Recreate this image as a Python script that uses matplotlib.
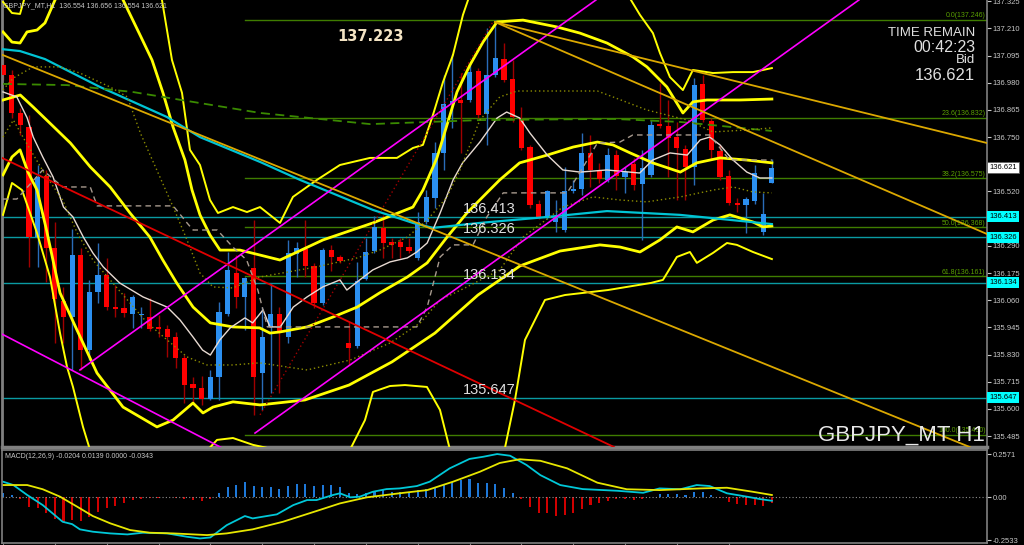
import numpy as np
import matplotlib.pyplot as plt
from matplotlib.transforms import blended_transform_factory as blend

plt.rcParams['font.family'] = ['Liberation Sans', 'DejaVu Sans']

# ---------------- GBPJPY H1 candles ----------------
opens = [137.055, 137.013, 136.852, 136.793, 136.327, 136.586, 136.281, 136.057, 135.989, 136.251,
         135.849, 136.095, 136.167, 136.031, 136.027, 136.002, 135.998, 135.989, 135.947, 135.938,
         135.904, 135.816, 135.706, 135.689, 135.642, 135.735, 136.002, 136.175, 136.074, 136.196,
         135.752, 135.947, 136.002, 135.904, 136.256, 136.277, 136.205, 136.048, 136.272, 136.243,
         135.879, 135.866, 136.150, 136.268, 136.366, 136.306, 136.306, 136.285, 136.239, 136.391,
         136.492, 136.683, 136.890, 136.907, 136.907, 137.030, 136.848, 137.013, 137.080, 136.996,
         136.827, 136.708, 136.467, 136.412, 136.391, 136.357, 136.522, 136.531, 136.683, 136.607,
         136.569, 136.674, 136.581, 136.636, 136.552, 136.590, 136.805, 136.797, 136.750, 136.700,
         136.624, 136.975, 136.818, 136.691, 136.586, 136.471, 136.463, 136.480, 136.349, 136.554]
highs = [137.085, 137.034, 136.873, 136.844, 136.632, 136.611, 136.391, 136.116, 136.361, 136.281,
         136.146, 136.302, 136.239, 136.124, 136.091, 136.082, 136.031, 136.069, 135.998, 135.955,
         135.926, 135.828, 135.735, 135.740, 135.765, 136.053, 136.264, 136.251, 136.158, 136.399,
         136.031, 136.133, 136.031, 136.315, 136.306, 136.399, 136.218, 136.281, 136.294, 136.251,
         135.968, 136.222, 136.323, 136.416, 136.421, 136.323, 136.323, 136.323, 136.433, 136.526,
         136.729, 137.013, 137.102, 137.021, 137.064, 137.042, 137.212, 137.246, 137.148, 137.076,
         136.877, 136.717, 136.484, 136.526, 136.484, 136.624, 136.569, 136.767, 136.759, 136.641,
         136.704, 136.695, 136.624, 136.662, 136.695, 136.822, 136.979, 136.907, 136.814, 136.717,
         137.000, 137.013, 136.831, 136.717, 136.611, 136.492, 136.497, 136.632, 136.514, 136.656]
lows = [136.992, 136.831, 136.759, 136.201, 136.201, 136.137, 135.879, 135.879, 135.765, 135.765,
        135.807, 136.048, 136.019, 135.989, 135.989, 135.943, 135.943, 135.930, 135.904, 135.820,
        135.773, 135.625, 135.625, 135.617, 135.638, 135.638, 135.993, 136.027, 135.934, 135.575,
        135.596, 135.668, 135.668, 135.879, 136.158, 136.158, 136.027, 136.040, 136.184, 136.218,
        135.786, 135.858, 136.146, 136.260, 136.239, 136.239, 136.239, 136.260, 136.230, 136.382,
        136.450, 136.611, 136.789, 136.683, 136.899, 136.831, 136.717, 137.004, 136.983, 136.814,
        136.695, 136.450, 136.404, 136.404, 136.349, 136.349, 136.514, 136.505, 136.539, 136.556,
        136.560, 136.526, 136.514, 136.526, 136.315, 136.581, 136.789, 136.581, 136.484, 136.484,
        136.547, 136.814, 136.653, 136.569, 136.463, 136.433, 136.344, 136.467, 136.336, 136.554]
closes = [137.013, 136.852, 136.801, 136.327, 136.581, 136.281, 136.065, 135.989, 136.251, 135.849,
          136.095, 136.167, 136.031, 136.023, 136.006, 136.074, 136.002, 135.938, 135.938, 135.904,
          135.816, 135.701, 135.689, 135.642, 135.735, 136.010, 136.188, 136.074, 136.154, 135.735,
          135.904, 136.002, 135.921, 136.260, 136.281, 136.205, 136.048, 136.272, 136.243, 136.226,
          135.858, 136.141, 136.264, 136.370, 136.302, 136.294, 136.285, 136.268, 136.391, 136.497,
          136.683, 136.890, 136.903, 136.894, 137.025, 136.844, 137.013, 137.085, 136.992, 136.835,
          136.704, 136.463, 136.412, 136.522, 136.408, 136.522, 136.531, 136.683, 136.611, 136.573,
          136.674, 136.586, 136.602, 136.547, 136.619, 136.801, 136.797, 136.746, 136.704, 136.624,
          136.970, 136.822, 136.695, 136.581, 136.471, 136.463, 136.488, 136.598, 136.425, 136.621]

# ---------------- indicator lines (bar index, price) ----------------
bb_mid_x = [0, 2.0, 3.5, 5.4, 7.8, 10.1, 12.4, 14.7, 17.0, 18.5, 20.1, 22.0, 24.0, 26.6, 29.7, 30.9,
            32.1, 35.2, 38.2, 41.0, 43.6, 46.8, 49.1, 51.4, 53.7, 56.0, 57.5, 59.8, 63.0, 66.0, 68.8,
            70.6, 72.6, 75.2, 78.4, 80.3, 83.0, 86.1, 89.0]
bb_mid_y = [136.907, 136.928, 136.877, 136.810, 136.725, 136.624, 136.539, 136.429, 136.327, 136.230,
            136.133, 136.031, 135.964, 135.947, 135.943, 135.921, 135.926, 135.947, 135.989, 136.031,
            136.091, 136.158, 136.218, 136.327, 136.429, 136.514, 136.569, 136.641, 136.674, 136.708,
            136.729, 136.717, 136.683, 136.641, 136.602, 136.641, 136.662, 136.653, 136.641]

bb_up2_x = [0, 1.04, 1.97, 2.78, 3.94, 4.86, 6.02, 8.91, 11.8, 13.9, 15.86, 17.25, 18.52, 19.68, 21.06,
            21.88, 22.8, 23.96, 25.12, 27.43, 29.75, 32.06, 37.04, 42.82, 47.45, 48.61, 50.23, 51.39,
            52.55, 54.05, 55.56, 57.18, 60.19, 64.12, 66.78, 69.91, 72.92, 74.54, 76.85, 78.7, 79.86,
            81.48, 85.3, 89.0]
bb_up2_y = [137.195, 137.152, 137.148, 137.195, 137.203, 137.233, 137.330, 137.499, 137.499, 137.330,
            137.182, 137.076, 136.937, 136.793, 136.653, 136.526, 136.421, 136.336, 136.272, 136.272,
            136.251, 136.230, 136.315, 136.387, 136.454, 136.526, 136.662, 136.801, 136.941, 137.055,
            137.152, 137.237, 137.245, 137.216, 137.190, 137.148, 137.089, 137.047, 136.962, 136.852,
            136.899, 136.907, 136.907, 136.911]

bb_up3_x = [0, 1.04, 1.97, 2.43, 4.28, 11.23, 17.01, 18.4, 19.56, 20.72, 21.64, 22.8, 23.96, 24.88,
            26.62, 28.24, 29.75, 32.06, 33.56, 36.34, 39.0, 42.48, 45.6, 47.45, 48.61, 49.77, 50.93,
            52.08, 53.24, 54.63, 63.31, 71.99, 73.73, 75.23, 76.04, 77.2, 78.7, 79.86, 82.18, 84.49,
            86.81, 89.0]
bb_up3_y = [137.322, 137.275, 137.271, 137.330, 137.499, 137.668, 137.457, 137.330, 137.076, 136.937,
            136.696, 136.632, 136.484, 136.429, 136.454, 136.433, 136.454, 136.387, 136.497, 136.569,
            136.632, 136.662, 136.662, 136.704, 136.717, 136.844, 136.983, 137.097, 137.267, 137.415,
            137.584, 137.372, 137.267, 137.190, 137.106, 137.004, 136.949, 137.034, 137.021, 137.025,
            137.025, 137.042]

bb_dn2_x = [0, 1.04, 1.97, 2.89, 3.94, 4.98, 6.6, 8.56, 10.88, 13.89, 15.86, 17.82, 19.68, 21.99,
            23.15, 24.31, 26.62, 29.75, 34.95, 40.05, 45.02, 50.0, 54.98, 59.84, 64.47, 69.1, 71.41,
            73.73, 76.04, 78.0, 79.86, 82.18, 84.14, 86.81, 87.96, 89.0]
bb_dn2_y = [136.590, 136.666, 136.696, 136.602, 136.526, 136.366, 136.091, 135.934, 135.752, 135.608,
            135.566, 135.524, 135.553, 135.625, 135.583, 135.608, 135.630, 135.617, 135.638, 135.701,
            135.799, 135.921, 136.082, 136.205, 136.268, 136.294, 136.285, 136.264, 136.315, 136.370,
            136.349, 136.399, 136.421, 136.391, 136.370, 136.374]

bb_dn3_x = [0, 1.04, 2.2, 3.94, 5.44, 6.6, 7.41, 8.1, 9.26, 10.07, 13.54, 20.49, 24.77, 26.62, 28.94,
            34.38, 40.16, 41.9, 42.82, 44.79, 46.53, 49.07, 50.58, 51.74, 55.21, 58.1, 59.26, 60.42,
            62.73, 65.05, 70.02, 75.0, 76.39, 78.0, 79.51, 80.32, 82.18, 83.8, 84.95, 86.81, 89.0]
bb_dn3_y = [136.421, 136.556, 136.526, 136.344, 136.158, 135.921, 135.778, 135.693, 135.524, 135.427,
            135.215, 135.300, 135.469, 135.477, 135.448, 135.405, 135.427, 135.553, 135.672, 135.697,
            135.701, 135.693, 135.596, 135.427, 135.342, 135.435, 135.638, 135.892, 136.061, 136.082,
            136.103, 136.133, 136.146, 136.243, 136.264, 136.218, 136.260, 136.302, 136.294, 136.264,
            136.234]

ma_cyan_x = [-0.35, 1.97, 4.86, 11.23, 18.98, 22.8, 29.75, 34.38, 42.82, 47.45, 49.77, 55.21, 62.96,
             69.91, 78.36, 89.0]
ma_cyan_y = [137.123, 137.114, 137.080, 136.962, 136.835, 136.750, 136.645, 136.569, 136.442, 136.387,
             136.366, 136.387, 136.412, 136.437, 136.421, 136.382]

ma_fast_x = [0, 1.6, 2.8, 3.5, 4.6, 5.8, 7, 8.1, 9.3, 10.4, 11.6, 13.5, 16.2, 19, 20.5, 22, 23.1, 24,
             25.1, 26.3, 28, 28.9, 30.1, 30.9, 32.1, 33.6, 35.2, 37, 39, 39.8, 41.3, 42.8, 44.8, 46.8,
             47.9, 49.1, 50.6, 52.1, 53.2, 55.2, 57.2, 58.3, 59.8, 61, 63, 64.8, 66.8, 69.9, 73.7, 75.2,
             77.2, 79.2, 80.7, 81.8, 83, 84.5, 86.1, 87.6, 89]
ma_fast_y = [136.941, 136.920, 136.831, 136.750, 136.666, 136.581, 136.454, 136.412, 136.327, 136.260,
             136.201, 136.133, 136.074, 136.031, 135.976, 135.904, 135.849, 135.828, 135.892, 135.943,
             135.985, 135.964, 136.019, 135.947, 135.947, 136.031, 136.074, 136.116, 136.146, 136.103,
             136.146, 136.188, 136.222, 136.239, 136.264, 136.302, 136.429, 136.569, 136.641, 136.729,
             136.831, 136.856, 136.831, 136.767, 136.674, 136.611, 136.602, 136.611, 136.598, 136.653,
             136.683, 136.674, 136.738, 136.750, 136.717, 136.653, 136.602, 136.577, 136.577]

ma_slow_x = [0, 7.4, 15, 22.8, 29.8, 42.5, 55.2, 70.6, 78.4, 89]
ma_slow_y = [136.975, 136.970, 136.941, 136.894, 136.852, 136.805, 136.822, 136.827, 136.814, 136.776]

kijun_x = [0, 1.6, 4.6, 6.9, 10.1, 10.9, 19.7, 21.3, 22, 24.8, 26.6, 28.2, 29.5, 30.6, 47.9, 49.1,
           50.6, 52.1, 54.4, 56, 57.9, 65.3, 66.8, 68.8, 71.4, 72.9, 81.8, 84.1, 89]
kijun_y = [136.488, 136.488, 136.611, 136.539, 136.539, 136.459, 136.459, 136.387, 136.357, 136.357,
           136.285, 136.230, 136.103, 135.947, 135.947, 136.031, 136.243, 136.294, 136.294, 136.412,
           136.514, 136.514, 136.602, 136.725, 136.729, 136.759, 136.759, 136.653, 136.653]

dot_hi_x = [0, 1.2, 3.5, 6.6, 8.9, 12.4, 14.4, 15.9, 17.8, 19.7, 21.3, 22.8, 24.3, 26.6, 29.7, 36.3,
            41, 43.6, 46.8, 49.1, 51.4, 52.9, 55.2, 57.5, 59.5, 68.8, 70.6, 74.5, 79.2, 82.2, 86.1, 89]
dot_hi_y = [136.950, 137.000, 137.047, 137.047, 137.021, 136.962, 136.920, 136.767, 136.611, 136.454,
            136.315, 136.175, 136.116, 136.112, 136.158, 136.201, 136.239, 136.272, 136.327, 136.399,
            136.497, 136.611, 136.822, 136.920, 136.945, 136.945, 136.920, 136.865, 136.822, 136.772,
            136.780, 136.789]

dot_lo_x = [0, 1.2, 2.5, 4.9, 6.9, 8.6, 10.4, 12.4, 14.4, 16.7, 19, 21.3, 23.6, 26.6, 29.7, 35.2, 40.2,
            44.8, 48.3, 50.6, 53.7, 57.5, 60.2, 64.8, 68.3, 71.4, 74.5, 78.4, 82.2, 84.5, 86.8, 89]
dot_lo_y = [136.750, 136.822, 136.738, 136.590, 136.484, 136.344, 136.230, 136.146, 136.061, 135.964,
            135.892, 135.820, 135.786, 135.786, 135.795, 135.765, 135.807, 135.879, 135.964, 136.061,
            136.116, 136.188, 136.327, 136.454, 136.497, 136.484, 136.476, 136.497, 136.526, 136.539,
            136.518, 136.514]

# ---------------- drawn objects ----------------
levels_cyan = [136.413, 136.326, 136.134, 135.647]
fib_pct = ['0.0', '23.6', '38.2', '50.0', '61.8', '100.0']
fib_levels = [137.246, 136.832, 136.575, 136.368, 136.161, 135.490]
fib_start = 28.0

trend_magenta = [((8.91, 135.765), (68.63, 137.330)),
                 ((29.17, 135.498), (99.07, 137.330)),
                 ((-0.35, 135.921), (25.35, 135.435))]
trend_red = ((-0.35, 136.666), (70.72, 135.439))
trend_gold = [((-0.35, 137.102), (111.9, 135.439)),
              ((56.94, 137.237), (113.9, 136.725)),
              ((56.94, 137.237), (113.9, 136.340))]
trend_red_dot = ((29.75, 135.575), (56.71, 137.237))

axis_prices = [137.325, 137.210, 137.095, 136.980, 136.865, 136.750, 136.635, 136.520, 136.405,
               136.290, 136.175, 136.060, 135.945, 135.830, 135.715, 135.600, 135.485]

# ---------------- MACD(12,26,9) ----------------
macd_hist = [0.028, 0.014, -0.012, -0.055, -0.065, -0.095, -0.129, -0.144, -0.135, -0.141,
             -0.115, -0.085, -0.065, -0.052, -0.036, -0.016, -0.008, -0.003, -0.002, 0.002,
             -0.002, -0.008, -0.016, -0.022, -0.012, 0.024, 0.059, 0.073, 0.091, 0.067,
             0.064, 0.061, 0.052, 0.069, 0.079, 0.081, 0.067, 0.073, 0.073, 0.064,
             0.028, 0.020, 0.024, 0.040, 0.043, 0.034, 0.034, 0.034, 0.043, 0.048,
             0.059, 0.079, 0.093, 0.103, 0.107, 0.087, 0.083, 0.079, 0.053, 0.024,
             -0.012, -0.055, -0.091, -0.095, -0.111, -0.105, -0.091, -0.069, -0.046, -0.036,
             -0.020, -0.012, -0.008, -0.016, -0.012, 0.002, 0.020, 0.020, 0.018, 0.014,
             0.030, 0.031, 0.014, -0.006, -0.030, -0.042, -0.046, -0.046, -0.052, -0.0343]
macd_main_x = [0, 1.2, 2.8, 4.6, 6.9, 8, 8.9, 10.4, 12.4, 14.4, 16.2, 19, 21.3, 22.8, 24, 25.9, 28,
               28.9, 31.7, 33.6, 35.2, 36.3, 38.2, 39, 40.2, 41.3, 42.8, 44.4, 45.9, 47.9, 49.4, 51.7,
               54, 55.6, 57.2, 58.7, 60.6, 62.2, 64.5, 67.1, 71.1, 74.1, 76, 78.4, 80.3, 81.8, 83.8,
               86.1, 87.6, 89]
macd_main_y = [0.093, 0.073, 0.014, -0.046, -0.145, -0.159, -0.190, -0.204, -0.214, -0.220, -0.210,
               -0.214, -0.234, -0.244, -0.238, -0.165, -0.111, -0.125, -0.101, -0.046, -0.016, -0.016,
               0.014, 0.024, 0.000, 0.004, 0.033, 0.049, 0.053, 0.067, 0.093, 0.172, 0.228, 0.241,
               0.257, 0.247, 0.192, 0.132, 0.073, 0.049, 0.039, 0.027, 0.053, 0.048, 0.073, 0.067,
               0.024, 0.004, -0.010, -0.0204]
macd_sig_x = [0, 2.8, 4.6, 6.6, 8.6, 10.4, 12.4, 14.7, 17, 19.7, 23.6, 25.9, 28.9, 32.4, 36.3, 39,
              42.1, 45.9, 49.1, 52.1, 55.2, 57.5, 59.8, 62.2, 65.3, 68.8, 72.2, 76, 80.7, 83.8, 86.8, 89]
macd_sig_y = [0.073, 0.073, 0.048, 0.004, -0.056, -0.111, -0.154, -0.194, -0.210, -0.214, -0.224,
              -0.214, -0.190, -0.145, -0.081, -0.036, 0.000, 0.024, 0.043, 0.093, 0.152, 0.204, 0.226,
              0.217, 0.172, 0.087, 0.048, 0.043, 0.053, 0.057, 0.033, 0.0139]

# ---------------- figure ----------------
W, H = 1024, 545
fig = plt.figure(figsize=(W / 100, H / 100), dpi=100, facecolor='black')
ax = fig.add_axes([2 / W, 1 - 447 / H, 985 / W, 447 / H], facecolor='black')
axm = fig.add_axes([2 / W, 2 / H, 985 / W, 93 / H], facecolor='black')

xlim = (-0.116, 113.9)
ax.set_xlim(*xlim)
ax.set_ylim(135.439, 137.330)
axm.set_xlim(*xlim)
axm.set_ylim(-0.271, 0.281)

grey = '#808080'
for a in (ax, axm):
    for s in a.spines.values():
        s.set_color(grey)
        s.set_linewidth(1.2)
ax.spines['top'].set_visible(False)
ax.spines['bottom'].set_linewidth(2.5)
ax.spines['left'].set_linewidth(2)

# horizontal levels
for lv in levels_cyan:
    ax.axhline(lv, color='#0a9aa2', lw=1, zorder=1)
    ax.text(53.2, lv + 0.004, f'{lv:.3f}', color='#e0e0e0', fontsize=10.5,
            ha='left', va='bottom', zorder=7)
for pct, lv in zip(fib_pct, fib_levels):
    ax.plot([fib_start, xlim[1]], [lv, lv], color='#3f7c00', lw=1, zorder=1)
    ax.text(xlim[1] - 0.15, lv + 0.003, f'{pct}({lv:.3f})', color='#5aa000', fontsize=5,
            ha='right', va='bottom', zorder=7)

# candles
x = np.arange(len(opens))
o, h, l, c = map(np.array, (opens, highs, lows, closes))
up = c >= o
ax.vlines(x[up], l[up], h[up], color='#2a6cb8', lw=1, zorder=2)
ax.vlines(x[~up], l[~up], h[~up], color='#a00000', lw=1, zorder=2)
ax.bar(x, np.maximum(np.abs(c - o), 0.003), bottom=np.minimum(o, c), width=0.6,
       color=np.where(up, '#2b8ff0', '#ff0000'), linewidth=0, zorder=3)

# indicators
ax.plot(bb_mid_x, bb_mid_y, color='#ffff00', lw=2, zorder=4)
ax.plot(bb_up2_x, bb_up2_y, color='#ffff00', lw=2, zorder=4)
ax.plot(bb_dn2_x, bb_dn2_y, color='#ffff00', lw=2, zorder=4)
ax.plot(bb_up3_x, bb_up3_y, color='#ffff00', lw=1.4, zorder=4)
ax.plot(bb_dn3_x, bb_dn3_y, color='#ffff00', lw=1.4, zorder=4)
ax.plot(ma_cyan_x, ma_cyan_y, color='#00c4d4', lw=1.6, zorder=4)
ax.plot(ma_fast_x, ma_fast_y, color='#e8dad2', lw=1, zorder=4)
ax.plot(ma_slow_x, ma_slow_y, color='#3a8a00', lw=1.3, dashes=(5, 3), zorder=4)
ax.plot(kijun_x, kijun_y, color='#a89a8e', lw=1, dashes=(4, 3), zorder=4)
ax.plot(dot_hi_x, dot_hi_y, color='#8c8c00', lw=1, dashes=(1, 2), zorder=4)
ax.plot(dot_lo_x, dot_lo_y, color='#8c8c00', lw=1, dashes=(1, 2), zorder=4)

# trend objects
for (x0, y0), (x1, y1) in trend_magenta:
    ax.plot([x0, x1], [y0, y1], color='#ff00ff', lw=1.2, zorder=5)
ax.plot(*zip(*trend_red), color='#e00000', lw=1.3, zorder=5)
for seg in trend_gold:
    ax.plot(*zip(*seg), color='#dba800', lw=1.3, zorder=5)
ax.plot(*zip(*trend_red_dot), color='#a00000', lw=1, dashes=(1, 2), zorder=5)

ax.text(42.5, 137.174, '137.223', color='#f3e3c3', fontsize=10.5, fontweight='bold',
        family='DejaVu Sans', ha='center', va='center', zorder=7)

# right price axis (the 136.405 label sits under the cyan price box)
ax.yaxis.tick_right()
ax.set_yticks(axis_prices)
ax.set_yticklabels(['' if p == 136.405 else f'{p:.3f}' for p in axis_prices])
ax.tick_params(axis='y', colors='#c8c8c8', length=3, width=0.8, labelsize=5.5, pad=1)
ax.tick_params(axis='x', bottom=False, labelbottom=False)

bt = blend(ax.transAxes, ax.transData)
for lv in levels_cyan:
    ax.text(1.002, lv, f'{lv:.3f}', transform=bt, color='black', fontsize=5.5, ha='left',
            va='center', clip_on=False, zorder=8,
            bbox=dict(boxstyle='square,pad=0.25', fc='#00ffff', ec='none'))
ax.text(1.002, closes[-1], f'{closes[-1]:.3f}', transform=bt, color='black', fontsize=5.5,
        ha='left', va='center', clip_on=False, zorder=8,
        bbox=dict(boxstyle='square,pad=0.25', fc='white', ec='#606060', lw=0.6))

# MACD panel
axm.axhline(0, color='#909090', lw=0.8, dashes=(1, 2))
axm.bar(x, macd_hist, width=0.24, color=np.where(np.array(macd_hist) >= 0, '#1e78d8', '#d00000'),
        linewidth=0)
axm.plot(macd_main_x, macd_main_y, color='#00c8d8', lw=1.3)
axm.plot(macd_sig_x, macd_sig_y, color='#e6e600', lw=1.3)
axm.yaxis.tick_right()
axm.set_yticks([0.2571, 0.0, -0.2533])
axm.set_yticklabels(['0.2571', '0.00', '-0.2533'])
axm.tick_params(axis='y', colors='#c8c8c8', length=3, width=0.8, labelsize=5.5, pad=1)
axm.set_xticks(np.arange(0, 90, 6))
axm.tick_params(axis='x', colors=grey, length=3, direction='out', labelbottom=False)
axm.text(0.003, 0.93, 'MACD(12,26,9) -0.0204 0.0139 0.0000 -0.0343', transform=axm.transAxes,
         color='#c8c8c8', fontsize=5, ha='left', va='center')

# header / info texts
fig.text(3 / W, 1 - 6 / H, 'GBPJPY_MT,H1  136.554 136.656 136.554 136.621', color='#c8c8c8',
         fontsize=5, ha='left', va='center')
fig.text(975 / W, 1 - 33 / H, 'TIME REMAIN', color='#e0e0e0', fontsize=9.5, ha='right', va='center')
fig.text(975 / W, 1 - 47 / H, '00:42:23', color='#e0e0e0', fontsize=11.5, ha='right', va='center')
fig.text(975 / W, 1 - 60 / H, 'Bid', color='#e0e0e0', fontsize=9.5, ha='right', va='center')
fig.text(975 / W, 1 - 75.5 / H, '136.621', color='#e0e0e0', fontsize=12, ha='right', va='center')
fig.text(985 / W, 1 - 441 / H, 'GBPJPY_MT H1', color='#e8e8e8', fontsize=16, ha='right',
         va='baseline')

fig.savefig('out.png', dpi=100, facecolor='black')
